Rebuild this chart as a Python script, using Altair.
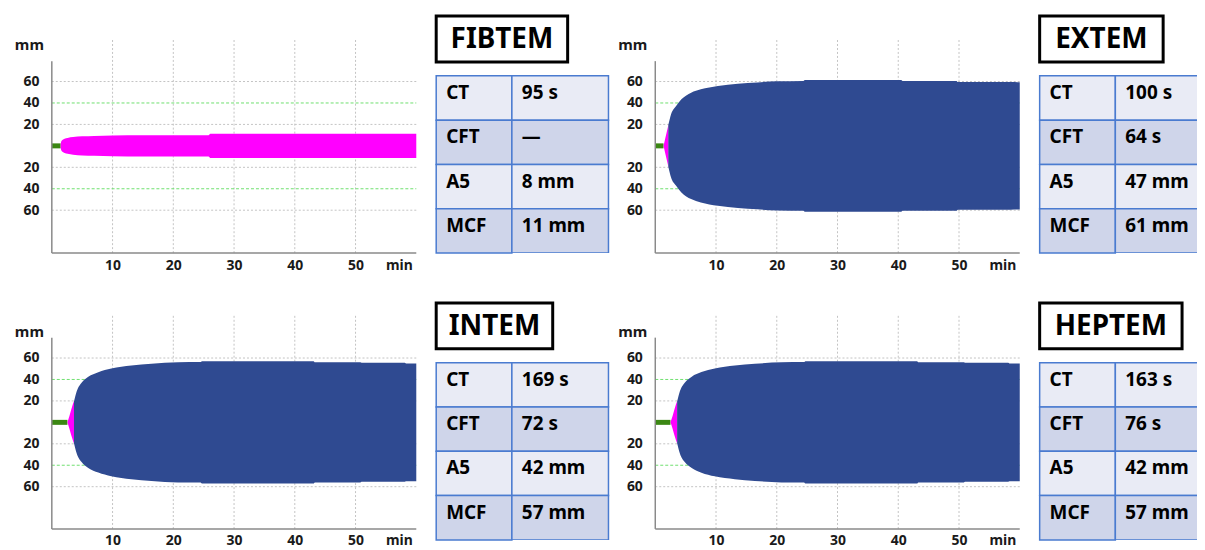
import altair as alt
import pandas as pd

FONT = "Noto Sans"

# ---------------- data ----------------
panel_names = ["FIBTEM", "EXTEM", "INTEM", "HEPTEM"]
param_labels = ["CT", "CFT", "A5", "MCF"]
values_fibtem = ["95 s", "—", "8 mm", "11 mm"]
values_extem = ["100 s", "64 s", "47 mm", "61 mm"]
values_intem = ["169 s", "72 s", "42 mm", "57 mm"]
values_heptem = ["163 s", "76 s", "42 mm", "57 mm"]

x_ticks = [10, 20, 30, 40, 50, 60]
y_ticks = [60, 40, 20, -20, -40, -60]
grid_vertical = [10, 20, 30, 40, 50]
grid_gray = [60, 20, -20, -60]
grid_green = [40, -40]

# green baseline (before clotting), end time in min
green_end = [1.45, 1.36, 2.57, 2.5]

# FIBTEM (magenta only)
fib_mag_t = [1.45, 1.5, 1.6, 1.8, 2.1, 2.6, 3.5, 5, 7, 10, 15, 20, 25.8, 26.1, 40, 60]
fib_mag_a = [0, 3, 4.6, 5.8, 6.7, 7.4, 8.2, 8.9, 9.3, 9.6, 9.8, 9.9, 10.0, 11.3, 11.3, 11.3]

# EXTEM
ext_mag_t = [1.36, 1.6, 1.85, 2.2]
ext_mag_a = [0, 6, 12, 20.5]
ext_blue_t = [2.15, 2.6, 3.4, 4.3, 5.9, 7.5, 10.3, 13.6, 16.8, 20, 24.4, 24.6, 40.5, 40.7, 49.6, 49.8, 58.5, 60]
ext_blue_a = [19.5, 29.5, 37, 43.4, 49.6, 52.7, 55.8, 58, 59.2, 60.3, 60.6, 61.4, 61.4, 60.5, 60.5, 59.5, 59.5, 59.3]

# INTEM
int_mag_t = [2.57, 2.9, 3.2, 3.7]
int_mag_a = [0, 6, 12, 20.5]
int_blue_t = [3.65, 4.1, 4.9, 6.0, 7.65, 9.8, 13.1, 16.4, 20.8, 24.5, 24.7, 43.1, 43.3, 50.8, 51.0, 58.1, 58.3, 60]
int_blue_a = [19.5, 29, 37, 42.5, 46.8, 50.2, 53, 54.6, 56, 56.2, 57, 57, 56, 56, 55.5, 55.5, 55, 55]

# HEPTEM
hep_mag_t = [2.5, 2.85, 3.15, 3.65]
hep_mag_a = [0, 6, 12, 20.5]
hep_blue_t = [3.6, 4.05, 4.85, 6.0, 7.6, 9.8, 13.1, 16.4, 20.8, 24.5, 24.7, 43.1, 43.3, 50.8, 51.0, 58.1, 58.3, 60]
hep_blue_a = [19.5, 29, 37, 42.6, 46.9, 50.3, 53, 54.6, 56, 56.2, 57, 57, 56, 56, 55.5, 55.5, 55, 55]

# ---------------- styles ----------------
BLUE = "#2f4a91"
MAGENTA = "#ff00ff"
GREEN = "#3b8713"
GRID_GRAY = "#c4c4c4"
GRID_GREEN = "#6fe06f"
AXIS_GRAY = "#8a8a8a"
TXT = "#1a1a1a"
CELL_LIGHT = "#e9ebf5"
CELL_DARK = "#cfd5ea"
CELL_BORDER = "#4a7bd0"

PLOT_W = 366
SIDE_H = 238
TITLE_H = 46
TABLE_TOP = 60
COL1_W = 76
TABLE_W = 173


def plot_panel(g_end, mag_t, mag_a, blue_t, blue_a, height, ymin, ymax, y_axis_top):
    xs = alt.Scale(domain=[0, 60], nice=False, zero=False)
    ys = alt.Scale(domain=[ymin, ymax], nice=False, zero=False)
    x_axis = alt.Axis(
        values=x_ticks,
        labelExpr="datum.value == 60 ? 'min' : datum.label",
        domain=False, ticks=False, tickSize=0, grid=False,
        labelPadding=5, labelFont=FONT, labelFontSize=14, labelFontWeight="bold",
        labelColor=TXT, title=None,
        labelOffset={"condition": {"test": "datum.value == 60", "value": -4}, "value": 0},
    )
    y_axis = alt.Axis(
        values=y_ticks, labelExpr="'' + abs(datum.value)",
        domain=False, ticks=False, tickSize=0, grid=False,
        labelPadding=13, labelFont=FONT, labelFontSize=14, labelFontWeight="bold",
        labelColor=TXT,
        title="mm", titleAngle=0, titleAlign="center", titleBaseline="middle",
        titleX=-23, titleY=29, titleFont=FONT, titleFontSize=15, titleFontWeight="bold",
        titleColor=TXT,
    )

    def X(field):
        return alt.X(field, type="quantitative", scale=xs, axis=x_axis)

    def XD(v):
        return alt.XDatum(v, type="quantitative", scale=xs, axis=x_axis)

    def Y(field):
        return alt.Y(field, type="quantitative", scale=ys, axis=y_axis)

    def YD(v):
        return alt.YDatum(v, type="quantitative", scale=ys, axis=y_axis)

    vgrid = alt.Chart(pd.DataFrame({"x": grid_vertical})).mark_rule(
        color=GRID_GRAY, strokeDash=[2, 2], strokeWidth=1
    ).encode(x=X("x"), y=YD(ymin), y2=alt.Y2Datum(100))

    hgrid = alt.Chart(pd.DataFrame({"y": grid_gray})).mark_rule(
        color=GRID_GRAY, strokeDash=[2, 2], strokeWidth=1
    ).encode(y=Y("y"), x=XD(0), x2=alt.X2Datum(60))

    ggrid = alt.Chart(pd.DataFrame({"y": grid_green})).mark_rule(
        color=GRID_GREEN, strokeDash=[3, 2], strokeWidth=1
    ).encode(y=Y("y"), x=XD(0), x2=alt.X2Datum(60))

    base_line = alt.Chart(pd.DataFrame({"t0": [0], "t1": [g_end]})).mark_rule(
        color=GREEN, strokeWidth=5
    ).encode(x=X("t0"), x2="t1:Q", y=YD(0))

    layers = [vgrid, hgrid, ggrid, base_line]

    mag = alt.Chart(pd.DataFrame({"t": mag_t, "a": mag_a})).transform_calculate(
        lo="-datum.a"
    ).mark_area(color=MAGENTA, interpolate="monotone").encode(
        x=X("t"), y=Y("a"), y2="lo:Q"
    )
    layers.append(mag)

    if blue_t:
        blue = alt.Chart(pd.DataFrame({"t": blue_t, "a": blue_a})).transform_calculate(
            lo="-datum.a"
        ).mark_area(color=BLUE, interpolate="monotone").encode(
            x=X("t"), y=Y("a"), y2="lo:Q"
        )
        layers.append(blue)

    yline = alt.Chart(pd.DataFrame({"v": [0]})).mark_rule(
        color=AXIS_GRAY, strokeWidth=1.5
    ).encode(x=XD(0), y=YD(ymin), y2=alt.Y2Datum(y_axis_top))
    xline = alt.Chart(pd.DataFrame({"v": [0]})).mark_rule(
        color=AXIS_GRAY, strokeWidth=1.5
    ).encode(y=YD(ymin), x=XD(0), x2=alt.X2Datum(60))
    layers += [yline, xline]

    return alt.layer(*layers).properties(width=PLOT_W, height=height)


def side_panel(name, box_w, values, view_w, table_right):
    title_df = pd.DataFrame({"t": [name]})
    box = alt.Chart(title_df).mark_rect(
        fill="white", stroke="black", strokeWidth=3
    ).encode(
        x=alt.value(0), x2=alt.value(box_w), y=alt.value(0), y2=alt.value(TITLE_H)
    )
    title = alt.Chart(title_df).mark_text(
        font=FONT, fontSize=28, fontWeight="bold", color="black",
        align="center", baseline="middle", dy=1,
    ).encode(text="t:N", x=alt.value(box_w / 2), y=alt.value(TITLE_H / 2))

    df = pd.DataFrame({"param": param_labels, "value": values,
                       "row": list(range(len(param_labels)))})
    base = alt.Chart(df).transform_calculate(
        shade="datum.row % 2 == 0 ? 'light' : 'dark'"
    ).encode(
        y=alt.Y("param:N", sort=param_labels,
                scale=alt.Scale(range=[TABLE_TOP, SIDE_H], paddingInner=0, paddingOuter=0),
                axis=None)
    )
    shade_color = alt.Color("shade:N",
                            scale=alt.Scale(domain=["light", "dark"], range=[CELL_LIGHT, CELL_DARK]),
                            legend=None)
    cells1 = base.mark_rect(stroke=CELL_BORDER, strokeWidth=1.5).encode(
        x=alt.value(0), x2=alt.value(COL1_W), color=shade_color)
    cells2 = base.mark_rect(stroke=CELL_BORDER, strokeWidth=1.5, clip=True).encode(
        x=alt.value(COL1_W), x2=alt.value(table_right), color=shade_color)
    text_style = dict(align="left", baseline="middle", dy=-5, font=FONT, fontSize=19,
                      fontWeight="bold", color="black")
    txt1 = base.mark_text(**text_style).encode(x=alt.value(10), text="param:N")
    txt2 = base.mark_text(**text_style).encode(x=alt.value(COL1_W + 10), text="value:N")

    return alt.layer(box, title, cells1, cells2, txt1, txt2).properties(
        width=view_w, height=SIDE_H)


RIGHT_VIEW_W = 158

charts = [
    plot_panel(green_end[0], fib_mag_t, fib_mag_a, [], [], 238, -100, 121, 79),
    side_panel(panel_names[0], 132, values_fibtem, 200, TABLE_W),
    plot_panel(green_end[1], ext_mag_t, ext_mag_a, ext_blue_t, ext_blue_a, 238, -100, 121, 79),
    side_panel(panel_names[1], 124, values_extem, RIGHT_VIEW_W, RIGHT_VIEW_W + 2),
    plot_panel(green_end[2], int_mag_t, int_mag_a, int_blue_t, int_blue_a, 227, -99.4, 111.4, 79),
    side_panel(panel_names[2], 117, values_intem, 200, TABLE_W),
    plot_panel(green_end[3], hep_mag_t, hep_mag_a, hep_blue_t, hep_blue_a, 227, -99.4, 111.4, 79),
    side_panel(panel_names[3], 143, values_heptem, RIGHT_VIEW_W, RIGHT_VIEW_W + 2),
]

chart = alt.concat(
    *charts, columns=4, spacing={"row": 50, "column": 20}, align="each", bounds="flush"
).configure_view(strokeWidth=0).properties(
    background="white",
    padding={"left": 6, "top": 5, "right": 0, "bottom": 0},
)

chart.save("out.html", embed_options={"renderer": "svg", "actions": False})
